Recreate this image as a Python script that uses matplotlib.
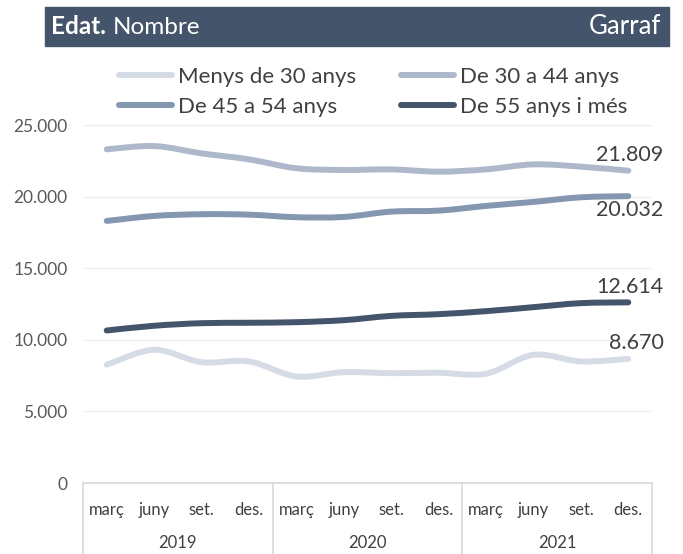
import matplotlib
matplotlib.use("Agg")
import matplotlib.pyplot as plt
from matplotlib.path import Path
from matplotlib.patches import PathPatch, Rectangle
from matplotlib.lines import Line2D
import matplotlib.transforms as mtransforms

plt.rcParams['font.family'] = ['Lato', 'DejaVu Sans']

months = ['març', 'juny', 'set.', 'des.'] * 3
years = ['2019', '2020', '2021']
series_names = ['Menys de 30 anys', 'De 30 a 44 anys', 'De 45 a 54 anys', 'De 55 anys i més']

menys30 = [8256, 9300, 8440, 8490, 7440, 7740, 7670, 7700, 7630, 8950, 8490, 8670]
de30_44 = [23300, 23530, 23020, 22600, 21980, 21860, 21900, 21740, 21900, 22250, 22090, 21809]
de45_54 = [18300, 18650, 18770, 18740, 18560, 18580, 18950, 19020, 19350, 19630, 19950, 20032]
de55 = [10650, 10980, 11160, 11190, 11230, 11370, 11670, 11790, 12000, 12280, 12560, 12614]

colors = ['#D6DCE5', '#ADB9CA', '#8497B0', '#44546A']
all_series = [menys30, de30_44, de45_54, de55]
end_labels = ['8.670', '21.809', '20.032', '12.614']
label_off = [16, 16, -14, 15]  # pixels above/below the last point

W, H = 683, 554
fig = plt.figure(figsize=(W / 100, H / 100), dpi=100)
ax = fig.add_axes([83 / W, 1 - 483 / H, (652 - 83) / W, (483 - 125) / H])


def smooth_path(xs, ys):
    # Catmull-Rom style bezier, like a smoothed spreadsheet line
    pts = list(zip(xs, ys))
    verts = [pts[0]]
    codes = [Path.MOVETO]
    n = len(pts)
    for i in range(n - 1):
        p0 = pts[max(i - 1, 0)]
        p1 = pts[i]
        p2 = pts[i + 1]
        p3 = pts[min(i + 2, n - 1)]
        c1 = (p1[0] + (p2[0] - p0[0]) / 6, p1[1] + (p2[1] - p0[1]) / 6)
        c2 = (p2[0] - (p3[0] - p1[0]) / 6, p2[1] - (p3[1] - p1[1]) / 6)
        verts += [c1, c2, p2]
        codes += [Path.CURVE4] * 3
    return Path(verts, codes)


x = list(range(len(months)))
for vals, c, lab, off in zip(all_series, colors, end_labels, label_off):
    patch = PathPatch(smooth_path(x, vals), facecolor='none', edgecolor=c,
                      lw=4.3, capstyle='round', joinstyle='round', zorder=3)
    ax.add_patch(patch)
    trans = ax.transData + mtransforms.ScaledTranslation(0, off / 100, fig.dpi_scale_trans)
    ax.text(x[-1] + 0.74, vals[-1], lab, transform=trans, ha='right', va='center',
            fontsize=15.5, color='#404040')

ax.set_xlim(-0.5, 11.5)
ax.set_ylim(0, 25000)
ax.set_yticks(range(0, 25001, 5000))
ax.set_yticklabels(['0', '5.000', '10.000', '15.000', '20.000', '25.000'])
ax.tick_params(axis='y', length=0, pad=11, labelsize=12.5, labelcolor='#595959')
ax.set_xticks([])
ax.grid(axis='y', color='#EFEFEF', lw=1)
ax.set_axisbelow(True)
for s in ['left', 'right', 'top']:
    ax.spines[s].set_visible(False)
ax.spines['bottom'].set_color('#D9D9D9')
ax.spines['bottom'].set_linewidth(1.2)

# category axis box
tb = mtransforms.blended_transform_factory(ax.transData, ax.transAxes)
for sep in [-0.5, 3.5, 7.5, 11.5]:
    ax.plot([sep, sep], [0, -0.21], transform=tb, color='#D9D9D9', lw=1.2, clip_on=False)
for i, m in enumerate(months):
    ax.text(i, -0.076, m, transform=tb, ha='center', va='center', fontsize=12, color='#404040')
for j, yr in enumerate(years):
    ax.text(j * 4 + 1.5, -0.168, yr, transform=tb, ha='center', va='center', fontsize=12,
            color='#404040')

# title bar
fig.patches.append(Rectangle((45 / W, 1 - 46 / H), (669 - 45) / W, 39 / H,
                             transform=fig.transFigure, color='#44546A', zorder=0))
fig.text(51 / W, 1 - 27 / H, 'Edat.', color='white', fontsize=17.5, fontweight='bold', va='center')
fig.text(113 / W, 1 - 27 / H, 'Nombre', color='white', fontsize=17.5, va='center')
fig.text(661 / W, 1 - 27 / H, 'Garraf', color='white', fontsize=18.5, va='center', ha='right')

# legend filled column by column -> reorder so rows read like the original
handles = [Line2D([], [], color=c, lw=4.3, solid_capstyle='round') for c in colors]
order = [0, 2, 1, 3]
fig.legend([handles[i] for i in order], [series_names[i] for i in order],
           loc='upper left', bbox_to_anchor=(119 / W, 1 - 67 / H),
           ncol=2, frameon=False, fontsize=16, handlelength=2.4, handletextpad=0.27,
           columnspacing=2.0, labelspacing=0.45, borderpad=0, borderaxespad=0,
           labelcolor='#404040')

fig.savefig('out.png', dpi=100)
